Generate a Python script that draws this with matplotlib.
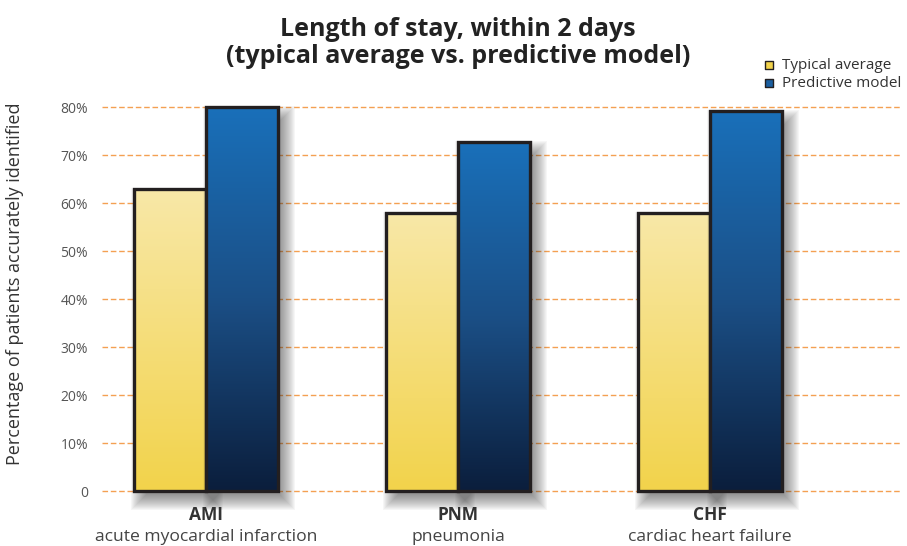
import numpy as np
import matplotlib.pyplot as plt
from matplotlib.patches import Rectangle
from matplotlib.colors import LinearSegmentedColormap
import matplotlib.transforms as mtransforms

plt.rcParams['font.family'] = ['Open Sans', 'DejaVu Sans']

# data
codes = ["AMI", "PNM", "CHF"]
names = ["acute myocardial infarction", "pneumonia", "cardiac heart failure"]
typical = [63, 58, 58]
predictive = [80, 72.7, 79.2]
yticks = [0, 10, 20, 30, 40, 50, 60, 70, 80]
ytick_labels = ["0", "10%", "20%", "30%", "40%", "50%", "60%", "70%", "80%"]

fig = plt.figure(figsize=(9.07, 5.46), dpi=100)
ax = fig.add_axes([0.1125, 0.1007, 0.882, 0.7033])

width = 0.286
ax.set_xlim(-0.413, 2.762)
ax.set_ylim(0, 80)

# px -> data conversion
px_x = 1 / 252.0
px_y = 80 / 384.0

yellow = LinearSegmentedColormap.from_list("y", ["#f2d34b", "#f8e8a8"])
blue = LinearSegmentedColormap.from_list("b", ["#0b1e3c", "#1b4f86", "#1970ba"])
grad = np.linspace(0, 1, 256).reshape(-1, 1)

# dashed orange grid, drawn unclipped so the zero line shows fully
for t in yticks:
    ax.axhline(t, color="#f4a052", linestyle=(0, (4, 2)), lw=1.0,
               zorder=0, clip_on=False)

def draw_bar(x0, h, cmap, z):
    # soft shadow, offset right/down, built from stacked translucent boxes
    n = 16
    for i in range(n):
        g = i - 5
        ax.add_patch(Rectangle((x0 + (7 - g) * px_x, -(9 + g) * px_y),
                               width + 2 * g * px_x, h + 2 * g * px_y,
                               facecolor="#303030", alpha=0.04, lw=0,
                               zorder=z - 1, clip_on=False))
    ax.imshow(grad, cmap=cmap, origin="lower", aspect="auto",
              extent=(x0, x0 + width, 0, h), zorder=z)
    ax.add_patch(Rectangle((x0, 0), width, h, fill=False, edgecolor="#231f20",
                           lw=2.4, zorder=z + 1, clip_on=False))

x = np.arange(len(codes))
for i in range(len(codes)):
    draw_bar(x[i] - width, typical[i], yellow, 3)
    draw_bar(x[i], predictive[i], blue, 5)

ax.set_xlim(-0.413, 2.762)
ax.set_ylim(0, 80)

ax.set_yticks(yticks)
ax.set_yticklabels(ytick_labels, fontsize=10, color="#555555")
ax.tick_params(axis="y", length=0, pad=10)
ax.set_xticks([])
for s in ax.spines.values():
    s.set_visible(False)

trans = mtransforms.blended_transform_factory(ax.transData, fig.transFigure)
for i in range(len(codes)):
    ax.text(x[i], 1 - 515 / 546, codes[i], transform=trans, ha="center",
            va="center", fontsize=12.5, fontweight="bold", color="#333333")
    ax.text(x[i], 1 - 537 / 546, names[i], transform=trans, ha="center",
            va="center", fontsize=12.6, color="#444444")

ax.set_ylabel("Percentage of patients accurately identified", fontsize=13,
              color="#333333")
ax.yaxis.set_label_coords(-0.098, 0.54)

fig.text(458 / 907, 1 - 43 / 546,
         "Length of stay, within 2 days\n(typical average vs. predictive model)",
         ha="center", va="center", fontsize=18, fontweight="bold",
         color="#222222", linespacing=1.1)

# legend
ax.scatter([], [], marker="s", s=26, color="#f2d34b", edgecolors="#231f20",
           label="Typical average")
ax.scatter([], [], marker="s", s=26, color="#1b5fa0", edgecolors="#231f20",
           label="Predictive model")
fig.legend(loc="upper right", bbox_to_anchor=(1.0, 1 - 52 / 546), frameon=False,
           fontsize=11, handletextpad=0.2, borderaxespad=0, labelspacing=0.2,
           handlelength=1.2, labelcolor="#333333")

fig.savefig("out.png", dpi=100)
